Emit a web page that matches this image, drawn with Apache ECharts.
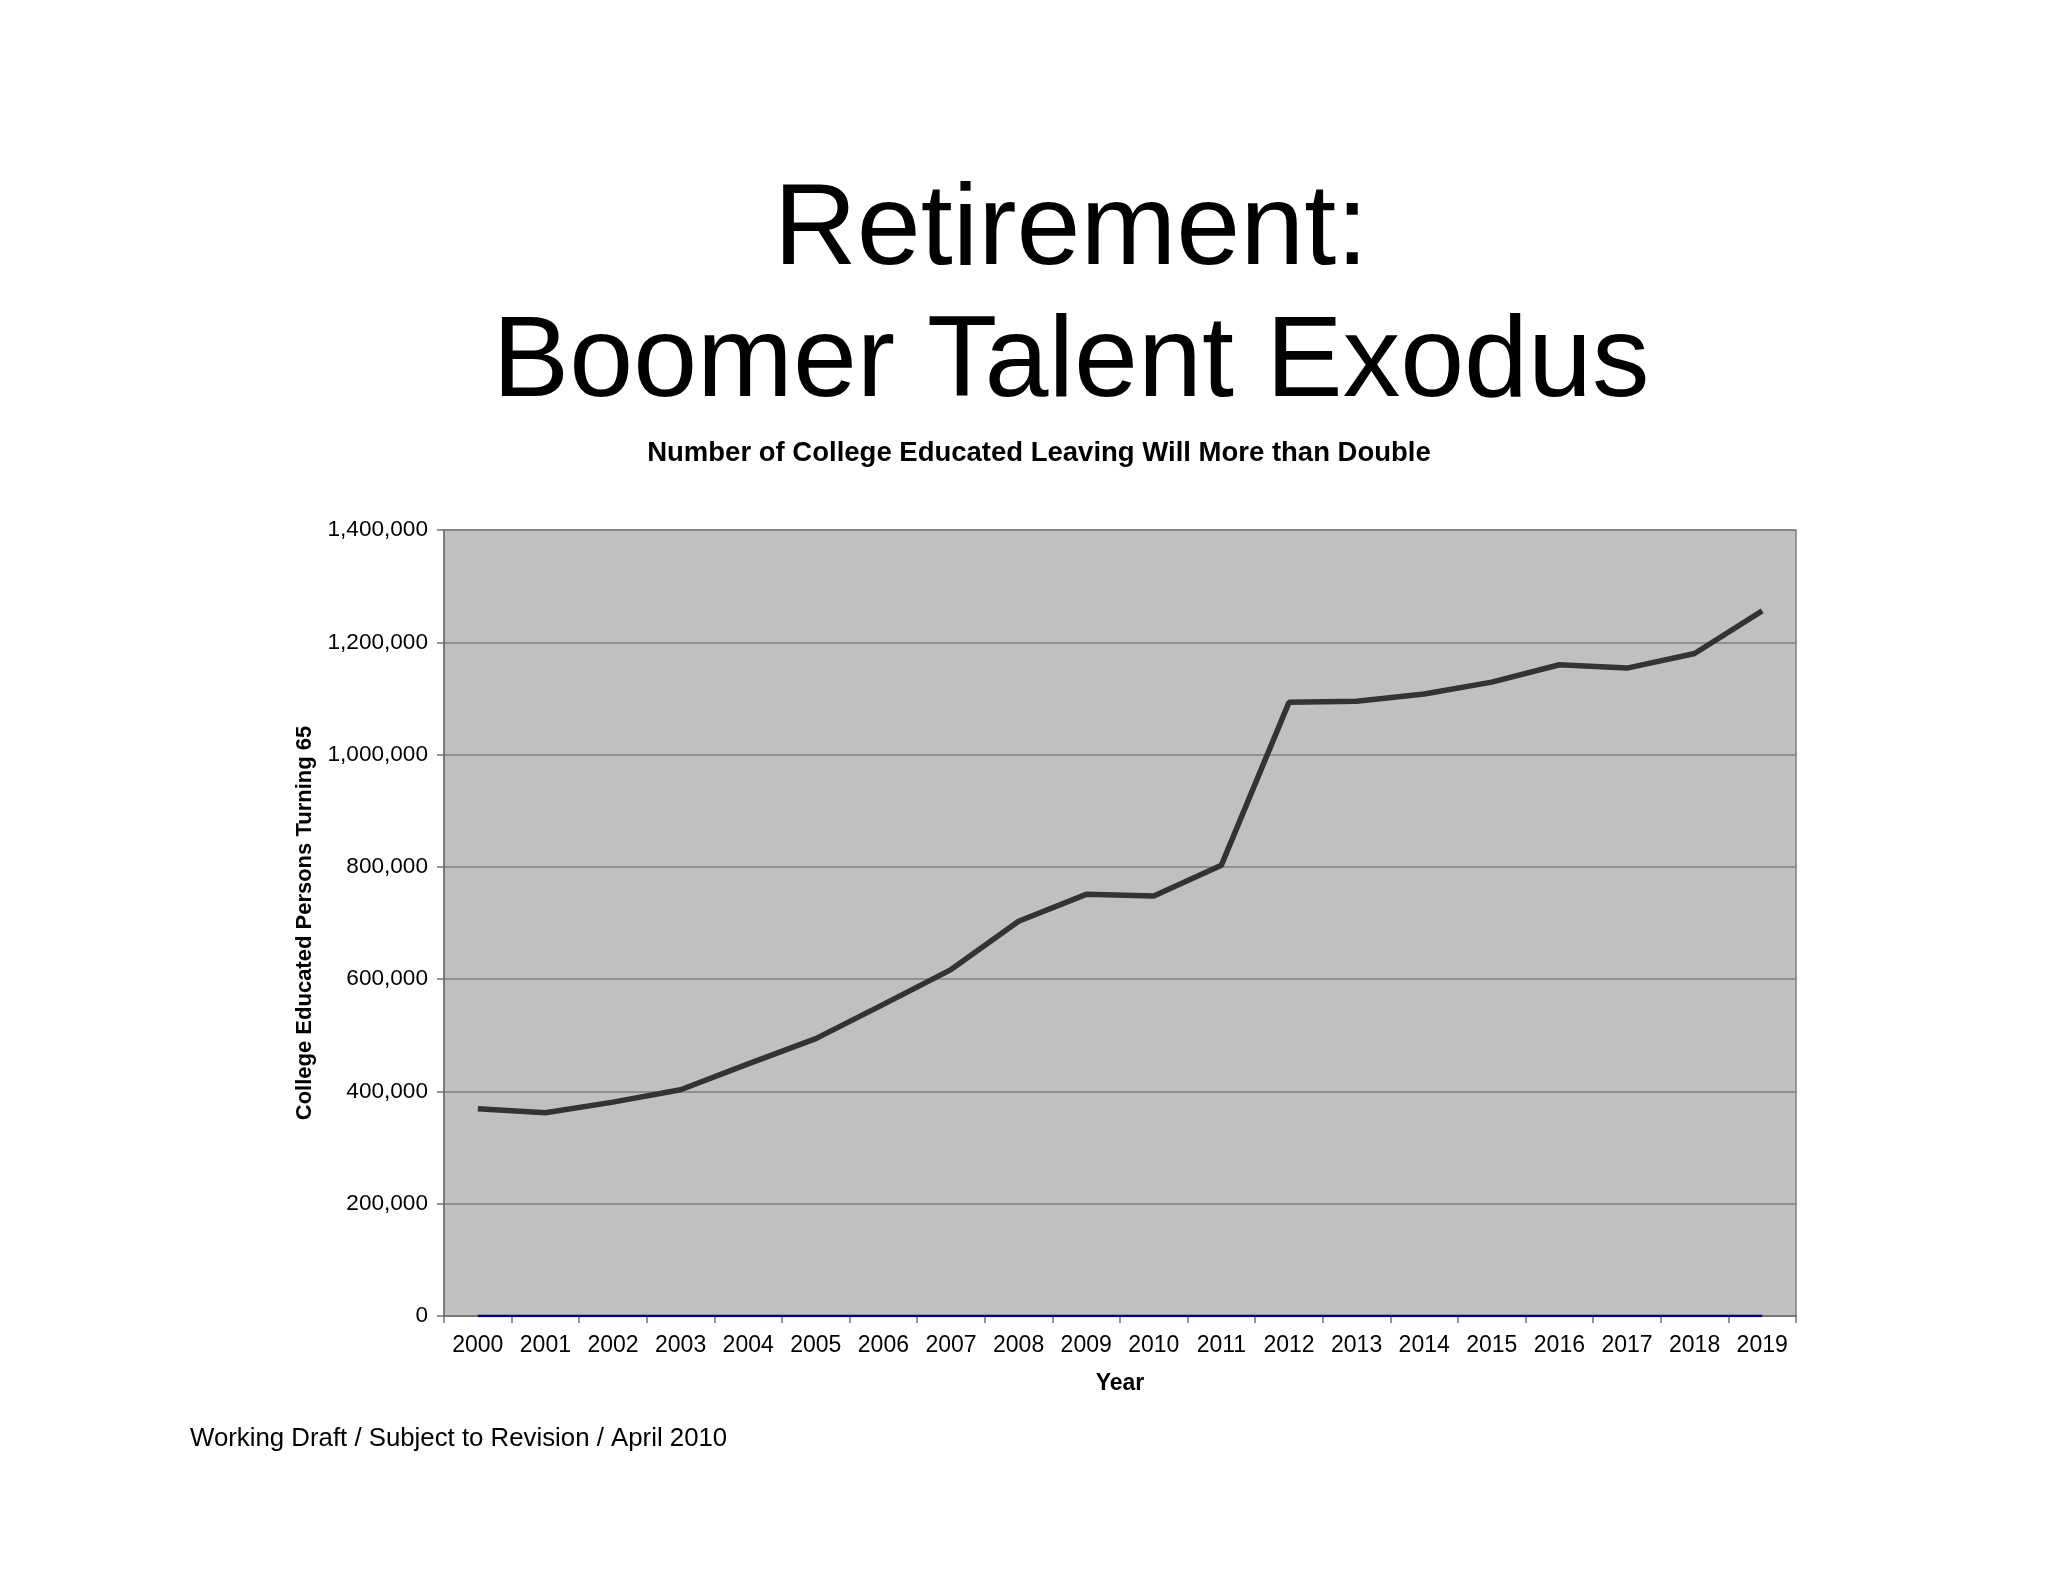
<!DOCTYPE html>
<html>
<head>
<meta charset="utf-8">
<script src="https://cdn.jsdelivr.net/npm/echarts@6/dist/echarts.min.js"></script>
<style>
html,body{margin:0;padding:0;background:#fff;}
#chart{width:2048px;height:1582px;}
</style>
</head>
<body>
<div id="chart"></div>
<script>
var years = ['2000','2001','2002','2003','2004','2005','2006','2007','2008','2009','2010','2011','2012','2013','2014','2015','2016','2017','2018','2019'];
var collegeTurning65 = [369000, 362000, 381000, 403000, 449000, 494000, 555000, 617000, 703000, 751000, 748000, 803000, 1093000, 1095000, 1108000, 1129000, 1160000, 1154000, 1180000, 1256000];
var baselineSeries = [0,0,0,0,0,0,0,0,0,0,0,0,0,0,0,0,0,0,0,0];
var yTicks = [0, 200000, 400000, 600000, 800000, 1000000, 1200000, 1400000];
var titleLines = ['Retirement:', 'Boomer Talent Exodus'];
var subtitleText = 'Number of College Educated Leaving Will More than Double';
var footerText = 'Working Draft / Subject to Revision / April 2010';
var xName = 'Year';
var yName = 'College Educated Persons Turning 65';

var FONT = '"Liberation Sans", Arial, sans-serif';
var chart = echarts.init(document.getElementById('chart'), null, {renderer: 'canvas'});
function fmt(v){ return v.toString().replace(/\B(?=(\d{3})+(?!\d))/g, ','); }

chart.setOption({
  backgroundColor: '#ffffff',
  animation: false,
  graphic: [
    {type: 'text', style: {x: 1071, y: 232, text: titleLines[0], font: '115px ' + FONT, fill: '#000', textAlign: 'center', textVerticalAlign: 'middle'}},
    {type: 'text', style: {x: 1071, y: 364, text: titleLines[1], font: '115px ' + FONT, fill: '#000', textAlign: 'center', textVerticalAlign: 'middle'}},
    {type: 'text', style: {x: 1039, y: 453, text: subtitleText, font: 'bold 27.5px ' + FONT, fill: '#000', textAlign: 'center', textVerticalAlign: 'middle'}},
    {type: 'text', style: {x: 190, y: 1439, text: footerText, font: '25.8px ' + FONT, fill: '#000', textAlign: 'left', textVerticalAlign: 'middle'}}
  ],
  grid: {
    left: 444, right: 252, top: 530, bottom: 266,
    show: true, backgroundColor: '#c0c0c0', borderColor: '#808080', borderWidth: 1.5,
    containLabel: false
  },
  xAxis: {
    type: 'category',
    data: years,
    boundaryGap: true,
    name: xName,
    nameLocation: 'middle',
    nameGap: 56,
    nameTextStyle: {fontFamily: FONT, fontSize: 23, fontWeight: 'bold', color: '#000'},
    axisLine: {show: true, lineStyle: {color: '#707070', width: 1.5}},
    axisTick: {show: true, length: 7, interval: 0, lineStyle: {color: '#707070', width: 1.5}},
    axisLabel: {interval: 0, fontFamily: FONT, fontSize: 23, color: '#000', margin: 18},
    splitLine: {show: false}
  },
  yAxis: {
    type: 'value',
    min: yTicks[0],
    max: yTicks[yTicks.length - 1],
    interval: yTicks[1] - yTicks[0],
    name: yName,
    nameLocation: 'middle',
    nameGap: 128,
    nameRotate: 90,
    nameTextStyle: {fontFamily: FONT, fontSize: 22, fontWeight: 'bold', color: '#000'},
    axisLine: {show: true, lineStyle: {color: '#707070', width: 1.5}},
    axisTick: {show: true, length: 7, lineStyle: {color: '#707070', width: 1.5}},
    axisLabel: {fontFamily: FONT, fontSize: 22.6, color: '#000', margin: 16, formatter: fmt},
    splitLine: {show: true, lineStyle: {color: '#808080', width: 1.5}}
  },
  series: [
    {
      type: 'line',
      data: collegeTurning65,
      symbol: 'none',
      lineStyle: {color: '#333333', width: 5.5},
      z: 3
    },
    {
      type: 'line',
      data: baselineSeries,
      symbol: 'none',
      lineStyle: {color: '#000080', width: 2.5},
      z: 4
    }
  ]
});
</script>
</body>
</html>
